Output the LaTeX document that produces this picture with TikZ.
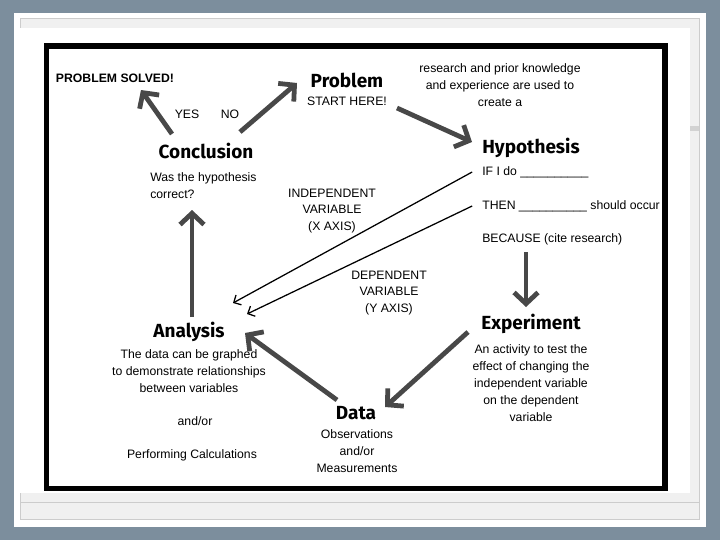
\documentclass[tikz,border=0pt]{standalone}
\usepackage{fontspec}
\setmainfont{Liberation Sans}
\newfontfamily\headfont{Fira Sans}
\usetikzlibrary{arrows.meta}
\definecolor{slate}{RGB}{124,142,157}
\definecolor{panel}{RGB}{240,240,240}
\definecolor{arrowgray}{RGB}{72,72,72}

\begin{document}
\begin{tikzpicture}[x=0.025cm,y=-0.025cm,
	head/.style={font=\headfont\bfseries\fontsize{13.5}{15}\selectfont, inner sep=0pt},
	body/.style={font=\fontsize{8.7}{12}\selectfont, align=center, inner sep=0pt},
	bigarrow/.style={arrowgray, line width=3.4pt, -{Straight Barb[length=8pt,width=17pt]}},
	thinarrow/.style={black, line width=0.9pt, -{Straight Barb[length=4pt,width=8pt]}}]
	\useasboundingbox (0,0) rectangle (720,540);
	% slide frame
	\fill[slate] (0,0) rectangle (720,540);
	\fill[white] (14,13) rectangle (706,527);
	\filldraw[draw=gray!40, fill=panel] (20,18) rectangle (699,519);
	\fill[white] (16,28) rectangle (690,493);
	\draw[gray!40] (20,502) -- (699,502);
	\fill[gray!35] (690,126) rectangle (699,131);
	\draw[line width=3.6pt] (46.5,46) rectangle (665,488.5);

	% top row
	\node[body, font=\bfseries\fontsize{8.7}{12}\selectfont] (solved) at (115,78) {PROBLEM SOLVED!};
	\node[head] (problem) at (347,80) {Problem};
	\node[body] (start) at (347,101) {START HERE!};
	\node[body] (research) at (500,85) {research and prior knowledge\\and experience are used to\\create a};
	\node[body] (yes) at (187,114) {YES};
	\node[body] (no) at (230,114) {NO};

	% conclusion and hypothesis
	\node[head] (concl) at (206,151) {Conclusion};
	\node[body, align=left, anchor=west] (wasit) at (150,185.5) {Was the hypothesis\\correct?};
	\node[head] (hyp) at (531,148) {Hypothesis};
	\node[body, anchor=west] (ifdo) at (482,172) {IF I do \_\_\_\_\_\_\_\_\_\_};
	\node[body, anchor=west] (then) at (482,206) {THEN \_\_\_\_\_\_\_\_\_\_ should occur};
	\node[body, anchor=west] (because) at (482,239) {BECAUSE (cite research)};
	\node[body] (indep) at (332,211) {INDEPENDENT\\VARIABLE\\(X AXIS)};
	\node[body] (dep) at (389,293) {DEPENDENT\\VARIABLE\\(Y AXIS)};

	% lower row
	\node[head] (exp) at (531,324) {Experiment};
	\node[body] (expdesc) at (531,383) {An activity to test the\\effect of changing the\\independent variable\\on the dependent\\variable};
	\node[head] (analysis) at (189,332) {Analysis};
	\node[body] (anadesc) at (189,371) {The data can be graphed\\to demonstrate relationships\\between variables};
	\node[body] (andor) at (195,421) {and/or};
	\node[body] (calc) at (192,455) {Performing Calculations};
	\node[head] (data) at (356,413) {Data};
	\node[body] (datadesc) at (357,451) {Observations\\and/or\\Measurements};

	% cycle arrows
	\draw[bigarrow] ([shift={(-34,-17)}]concl.center) -- ([shift={(26,12)}]solved.center);
	\draw[bigarrow] ([shift={(34,-19)}]concl.center) -- ([shift={(-50,3)}]problem.center);
	\draw[bigarrow] ([shift={(50,7)}]start.center) -- ([shift={(-59,-6)}]hyp.center);
	\draw[bigarrow] ([shift={(44,13)}]because.west) -- ([shift={(-5,-17)}]exp.center);
	\draw[bigarrow] ([shift={(-63,8)}]exp.center) -- ([shift={(29,-6)}]data.center);
	\draw[bigarrow] ([shift={(-19,-13)}]data.center) -- ([shift={(56,1)}]analysis.center);
	\draw[bigarrow] ([shift={(3,-15)}]analysis.center) -- ([shift={(42,24.5)}]wasit.west);
	% variable lines
	\draw[thinarrow] ([xshift=-7pt]ifdo.west) -- ([shift={(44,-29)}]analysis.center);
	\draw[thinarrow] ([xshift=-7pt]then.west) -- ([shift={(58,-18)}]analysis.center);
\end{tikzpicture}
\end{document}
